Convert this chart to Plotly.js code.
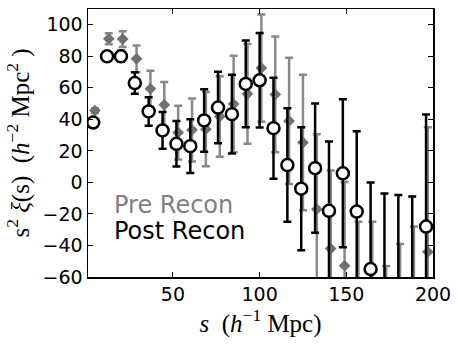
<!DOCTYPE html>
<html>
<head>
<meta charset="utf-8">
<script src="https://cdn.plot.ly/plotly-3.0.1.min.js"></script>
<style>
  body { margin: 0; background: #fff; }
  #plot { width: 458px; height: 352px; }
</style>
</head>
<body>
<div id="plot"></div>
<script>
// bin centres (Mpc/h)
const sPost = [4, 12, 20, 28, 36, 44, 52, 60, 68, 76, 84, 92, 100, 108, 116, 124, 132, 140, 148, 156, 164, 172, 180, 188, 196];
const sPre = sPost.map(s => s + 1);   // small shift so the two sets don't overlap

const postVal = [38, 80, 80, 63, 45, 33, 24.5, 23, 39.3, 47.5, 43.3, 62.5, 64.8, 34.4, 11, -4, 9, -18, 5.8, -18.5, -55, -67, -72, -77, -28];
const postErr = [1.5, 2, 3.5, 6.8, 9, 11.6, 14.4, 17, 19.8, 22.7, 25, 27.5, 30, 32, 36, 39, 41, 44, 47, 51, 55, 60, 64, 68, 71];

const preVal = [45.6, 91.1, 90.9, 78.4, 59.4, 49.2, 31.6, 33.3, 33.8, 41.8, 49.8, 56.2, 72.5, 55.8, 39, 25.3, -17, -42, -52.8, -82, -85, -115, -104, -96, -44];
const preErr = [1.5, 3.5, 5, 8.5, 11.5, 14.5, 17, 20, 23.5, 25.6, 30.6, 31.6, 34, 36.7, 40, 43, 47.6, 49.5, 53, 57, 60, 62, 65, 68, 79];

const preTrace = {
    x: sPre,
    y: preVal,
    type: 'scatter',
    mode: 'markers',
    name: 'Pre Recon',
    marker: { symbol: 'diamond', size: 9, color: '#707070' },
    error_y: { type: 'data', array: preErr, visible: true, color: '#888888', thickness: 2.5, width: 4 }
};

const postTrace = {
    x: sPost,
    y: postVal,
    type: 'scatter',
    mode: 'markers',
    name: 'Post Recon',
    marker: { symbol: 'circle', size: 12, color: '#ffffff', line: { color: '#000000', width: 2.5 } },
    error_y: { type: 'data', array: postErr, visible: true, color: '#000000', thickness: 2.5, width: 4 }
};

const axisCommon = {
    showgrid: false,
    zeroline: false,
    showline: true,
    linecolor: '#000',
    linewidth: 1.5,
    mirror: 'ticks',
    ticks: 'inside',
    ticklen: 5,
    tickwidth: 1,
    tickcolor: '#000',
    tickfont: { family: 'DejaVu Sans', size: 19, color: '#000' }
};

const layout = {
    width: 458,
    height: 352,
    margin: { l: 88, r: 25, t: 9, b: 75 },
    paper_bgcolor: '#fff',
    plot_bgcolor: '#fff',
    showlegend: false,
    xaxis: Object.assign({}, axisCommon, {
        range: [1, 200],
        tickvals: [50, 100, 150, 200],
        title: { text: '<i>s</i>  (<i>h</i><sup>−1</sup> Mpc)', font: { family: 'Liberation Serif', size: 25, color: '#000' }, standoff: 8 }
    }),
    yaxis: Object.assign({}, axisCommon, {
        range: [-60, 110],
        tickvals: [-60, -40, -20, 0, 20, 40, 60, 80, 100],
        title: { text: 's<sup>2</sup> <i>ξ</i>(s)  (<i>h</i><sup>−2</sup> Mpc<sup>2</sup> )', font: { family: 'Liberation Serif', size: 25, color: '#000' }, standoff: 6 }
    }),
    annotations: [
        { text: 'Pre Recon', xref: 'paper', yref: 'paper', x: 0.07, y: 0.268, xanchor: 'left', yanchor: 'middle', height: 24, showarrow: false, font: { family: 'DejaVu Sans', size: 24, color: '#808080' } },
        { text: 'Post Recon', xref: 'paper', yref: 'paper', x: 0.07, y: 0.17, xanchor: 'left', yanchor: 'middle', height: 24, showarrow: false, font: { family: 'DejaVu Sans', size: 24, color: '#000' } }
    ]
};

Plotly.newPlot('plot', [preTrace, postTrace], layout, { displayModeBar: false, staticPlot: true });
</script>
</body>
</html>
